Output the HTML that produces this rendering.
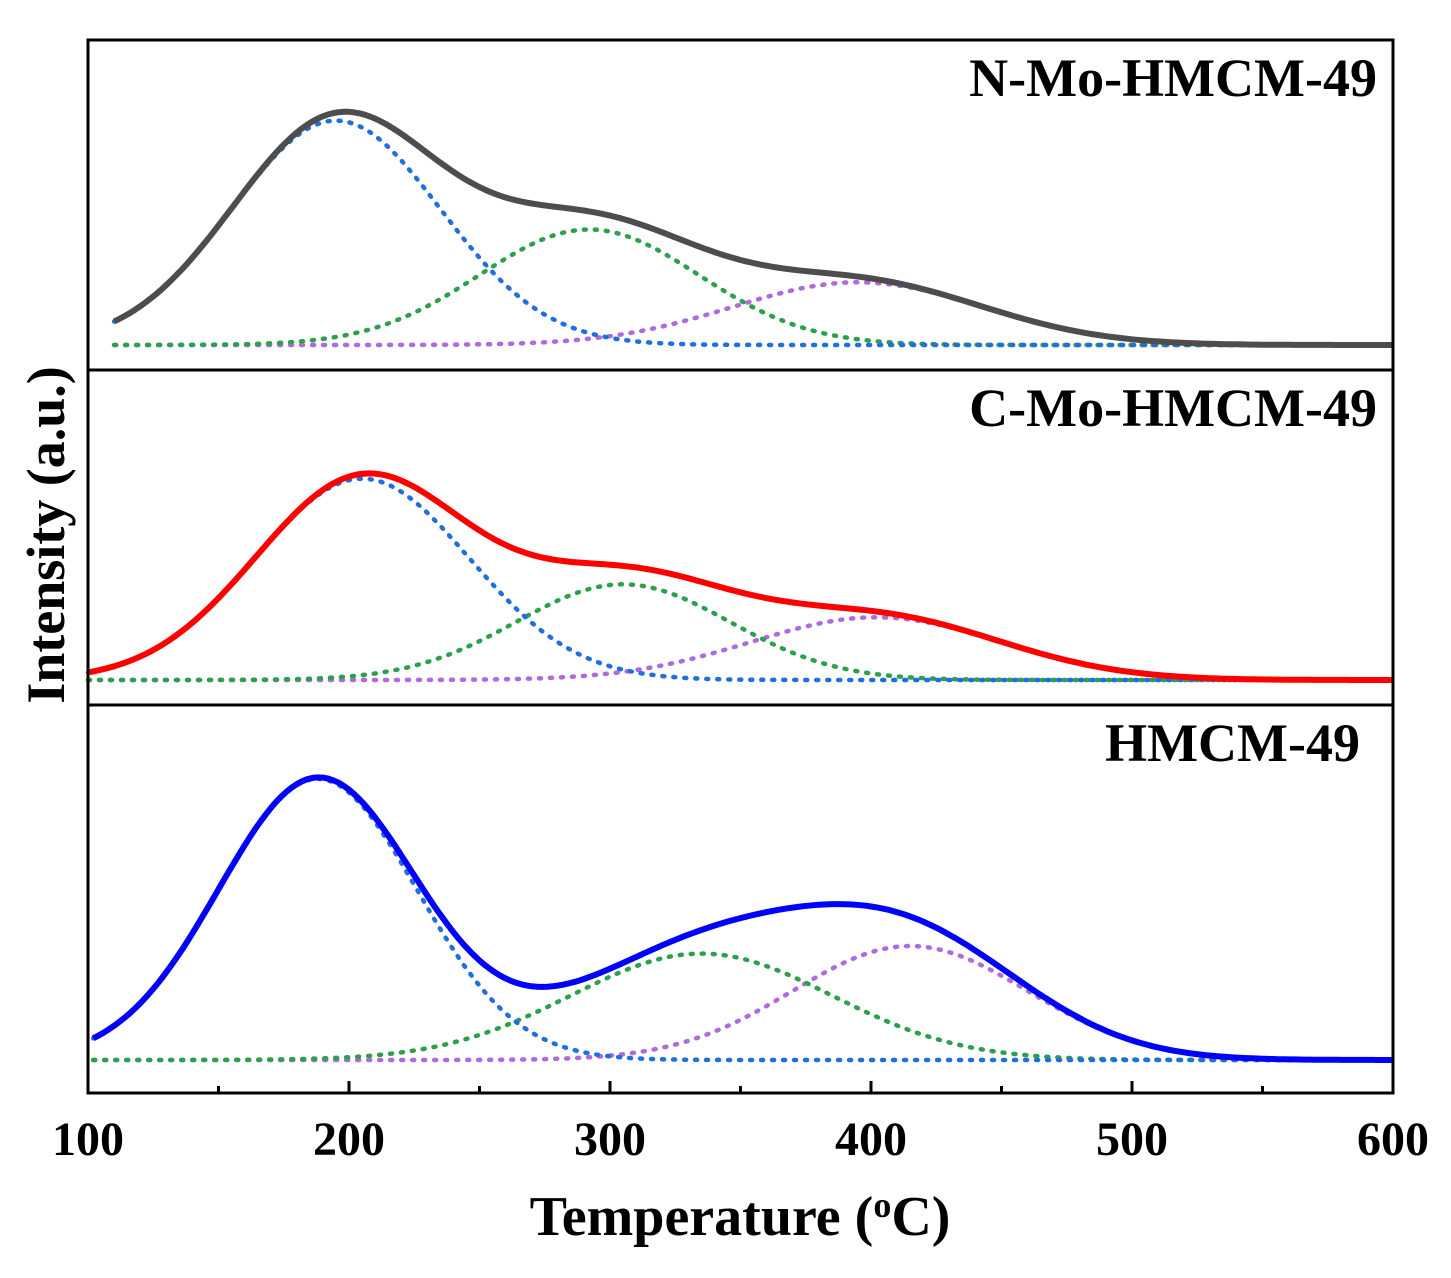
<!DOCTYPE html>
<html><head><meta charset="utf-8"><style>
body{margin:0;background:#fff;}
svg text{font-family:"Liberation Serif",serif;font-weight:bold;fill:#000;}
</style></head><body>
<svg id="chart" width="1451" height="1273" viewBox="0 0 1451 1273">
<g id="plots"></g>
<g id="frame"></g>
</svg>
<script>
// x-axis ticks
const xTicks = [100, 200, 300, 400, 500, 600];
const xMinor = [150, 250, 350, 450, 550];
// samples
const panelNames = ["N-Mo-HMCM-49", "C-Mo-HMCM-49", "HMCM-49"];
const totalColors = ["#4d4d4d", "#ff0000", "#0000ff"];
// fitted peak components per panel: [blue, green, purple]
const peakCenters = [[195, 292, 395], [205, 305, 402], [188, 335, 415]];
const peakHeights = [[0.68, 0.35, 0.19], [0.61, 0.29, 0.19], [0.74, 0.28, 0.30]];
const peakWidths = [[40, 42, 48], [41, 41, 48], [38, 50, 45]];
const compColors = ["#1f6fe0", "#2ca04a", "#b06ae0"];

const svg = document.getElementById('chart');
const NS = "http://www.w3.org/2000/svg";
const L = 88, R = 1393, T = 40, B = 1093;
const panelTop = [40, 370, 705], panelBase = [345, 680, 1060], panelScale = [330, 330, 380];
const xs = v => L + (v - 100) / 500 * (R - L);
function mk(tag, attrs, parent) {
  const e = document.createElementNS(NS, tag);
  for (const k in attrs) e.setAttribute(k, attrs[k]);
  parent.appendChild(e); return e;
}
const plots = document.getElementById('plots');
const frame = document.getElementById('frame');
const gauss = (x, c, h, w) => h * Math.exp(-((x - c) ** 2) / (2 * w * w));
for (let p = 0; p < 3; p++) {
  const ys = v => panelBase[p] - v * panelScale[p];
  const xStart = p === 2 ? 102 : (p === 1 ? 100 : 110);
  for (let k = 2; k >= 0; k--) {
    let d = "";
    for (let x = xStart; x <= 600; x += 2) {
      d += (x === xStart ? "M" : "L") + xs(x).toFixed(1) + "," + ys(gauss(x, peakCenters[p][k], peakHeights[p][k], peakWidths[p][k])).toFixed(1);
    }
    const e = mk('path', {d: d, fill: "none", stroke: compColors[k], "stroke-width": 4.5, "stroke-dasharray": "2 9", "stroke-linecap": "round"}, plots);
    
    
  }
  let d = "";
  for (let x = xStart; x <= 600; x += 2) {
    let s = 0;
    for (let k = 0; k < 3; k++) s += gauss(x, peakCenters[p][k], peakHeights[p][k], peakWidths[p][k]);
    d += (x === xStart ? "M" : "L") + xs(x).toFixed(1) + "," + ys(s).toFixed(1);
  }
  const t = mk('path', {d: d, fill: "none", stroke: totalColors[p], "stroke-width": 6, "stroke-linejoin": "round"}, plots);
  
  
  const lab = mk('text', {x: p === 2 ? 1360 : 1377, y: panelTop[p] + 56, "font-size": 54, "text-anchor": "end"}, frame);
  lab.textContent = panelNames[p];
  
  
}
const rect = mk('rect', {x: L, y: T, width: R - L, height: B - T, fill: "none", stroke: "#000", "stroke-width": 3}, frame);


[370, 705].forEach((y, i) => {
  const l = mk('line', {x1: L, x2: R, y1: y, y2: y, stroke: "#000", "stroke-width": 3}, frame);
  
  
});
xTicks.forEach(v => {
  const l = mk('line', {x1: xs(v), x2: xs(v), y1: B, y2: B - 12, stroke: "#000", "stroke-width": 3}, frame);
  
  
  const t = mk('text', {x: xs(v), y: 1155, "font-size": 48, "text-anchor": "middle"}, frame);
  t.textContent = v;
  
  
});
xMinor.forEach(v => {
  const l = mk('line', {x1: xs(v), x2: xs(v), y1: B, y2: B - 7, stroke: "#000", "stroke-width": 3}, frame);
  
  
});
const xt = mk('text', {x: 740, y: 1235, "font-size": 56, "text-anchor": "middle"}, frame);
xt.innerHTML = 'Temperature (<tspan dy="-18" font-size="36">o</tspan><tspan dy="18">C)</tspan>';


const yt = mk('text', {x: 0, y: 0, "font-size": 54, "text-anchor": "middle", transform: "translate(64,535) rotate(-90)"}, frame);
yt.textContent = 'Intensity (a.u.)';


</script>
</body></html>
